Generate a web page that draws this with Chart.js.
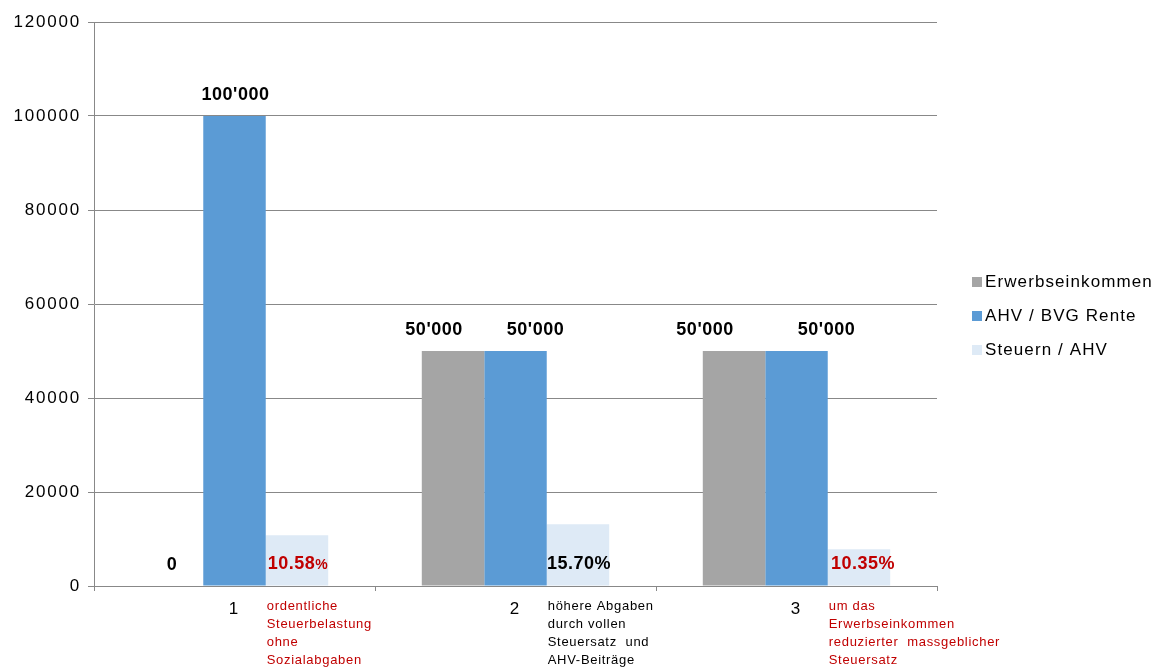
<!DOCTYPE html>
<html>
<head>
<meta charset="utf-8">
<script src="https://cdn.jsdelivr.net/npm/chart.js@4"></script>
<style>
  html, body { margin: 0; padding: 0; background: #fff; }
</style>
</head>
<body>
<canvas id="myChart" width="1160" height="669"></canvas>
<script>
const ctx = document.getElementById('myChart');

// data
const categories = ['1', '2', '3'];
const seriesNames = ['Erwerbseinkommen', 'AHV / BVG Rente', 'Steuern / AHV'];
const erwerbseinkommen = [0, 50000, 50000];
const rente = [100000, 50000, 50000];
const steuern = [10800, 13150, 7800];

const erwerbLabels = ["0", "50'000", "50'000"];
const renteLabels = ["100'000", "50'000", "50'000"];
const steuerLabels = ['10.58%', '15.70%', '10.35%'];
const steuerLabelColors = ['#C00000', '#000000', '#C00000'];

const notes = [
  ['ordentliche', 'Steuerbelastung', 'ohne', 'Sozialabgaben'],
  ['höhere Abgaben', 'durch vollen', 'Steuersatz  und', 'AHV-Beiträge'],
  ['um das', 'Erwerbseinkommen', 'reduzierter  massgeblicher', 'Steuersatz']
];
const noteColors = ['#C00000', '#000000', '#C00000'];

const colors = ['#A5A5A5', '#5B9BD5', '#DEEAF6'];
const FONT = 'Arial, "Liberation Sans", sans-serif';

// the value labels were nudged by hand in the original
const labelShift = [[0, -19, -29], [1, 20, 30], [1, 1, 4]];

const labelPlugin = {
  id: 'labels',
  beforeDraw(chart) {
    chart.ctx.letterSpacing = '1.8px';
  },
  beforeDatasetsDraw(chart) {
    chart.ctx.letterSpacing = '0px';
  },
  afterDraw(chart) {
    const c = chart.ctx;
    const valueLabels = [erwerbLabels, renteLabels, steuerLabels];
    c.save();
    c.textAlign = 'center';
    c.textBaseline = 'middle';
    c.letterSpacing = '0.5px';
    chart.data.datasets.forEach((ds, d) => {
      const meta = chart.getDatasetMeta(d);
      meta.data.forEach((el, i) => {
        const y = d < 2 ? el.y - 21 : el.base - 21;
        const x = el.x + labelShift[d][i];
        const txt = valueLabels[d][i];
        c.fillStyle = d < 2 ? '#000' : steuerLabelColors[i];
        c.font = 'bold 18px ' + FONT;
        if (d === 2 && i === 0) {
          // first percent sign is smaller in the original
          const num = txt.slice(0, -1);
          c.textAlign = 'left';
          const w1 = c.measureText(num).width;
          c.font = 'bold 14px ' + FONT;
          const w2 = c.measureText('%').width;
          const x0 = x - (w1 + w2) / 2;
          c.font = 'bold 18px ' + FONT;
          c.fillText(num, x0, y);
          c.font = 'bold 14px ' + FONT;
          c.fillText('%', x0 + w1, y + 1);
          c.textAlign = 'center';
        } else {
          c.fillText(txt, x, y);
        }
      });
    });

    // notes under the axis
    const light = chart.getDatasetMeta(2);
    c.textAlign = 'left';
    c.font = '13px ' + FONT;
    c.letterSpacing = '0.7px';
    light.data.forEach((el, i) => {
      const x0 = el.x - el.width / 2 + 1;
      c.fillStyle = noteColors[i];
      notes[i].forEach((line, k) => {
        c.fillText(line, x0, chart.chartArea.bottom + 20 + k * 18);
      });
    });

    // legend
    c.font = '17px ' + FONT;
    c.letterSpacing = '1.1px';
    seriesNames.forEach((name, k) => {
      const yy = 282 + k * 34;
      c.fillStyle = colors[k];
      c.fillRect(972, yy - 5, 10, 10);
      c.fillStyle = '#000';
      c.fillText(name, 985, yy);
    });
    c.restore();
  }
};

const data = {
  labels: categories,
  datasets: [
    { label: seriesNames[0], data: erwerbseinkommen, backgroundColor: colors[0] },
    { label: seriesNames[1], data: rente, backgroundColor: colors[1] },
    { label: seriesNames[2], data: steuern, backgroundColor: colors[2] }
  ]
};

const config = {
  type: 'bar',
  data: data,
  options: {
    responsive: false,
    animation: false,
    devicePixelRatio: 1,
    layout: { padding: { left: 0, top: 22, right: 223, bottom: 0 } },
    datasets: {
      bar: { categoryPercentage: 0.667, barPercentage: 1, borderWidth: 0 }
    },
    plugins: {
      legend: { display: false },
      tooltip: { enabled: false }
    },
    scales: {
      x: {
        grid: { display: true, drawOnChartArea: false, offset: true, tickLength: 5, color: '#888' },
        border: { color: '#888' },
        ticks: { color: '#000', font: { family: FONT, size: 17 }, padding: 8 },
        afterFit(s) { s.height = 83; }
      },
      y: {
        min: 0,
        max: 120000,
        grid: { color: '#888', tickLength: 6 },
        border: { color: '#888' },
        ticks: {
          stepSize: 20000, color: '#000', font: { family: FONT, size: 17 }, padding: 7,
          callback: v => String(v)
        },
        afterFit(s) { s.width = 94; }
      }
    }
  },
  plugins: [labelPlugin]
};

const myChart = new Chart(ctx, config);
</script>
</body>
</html>
